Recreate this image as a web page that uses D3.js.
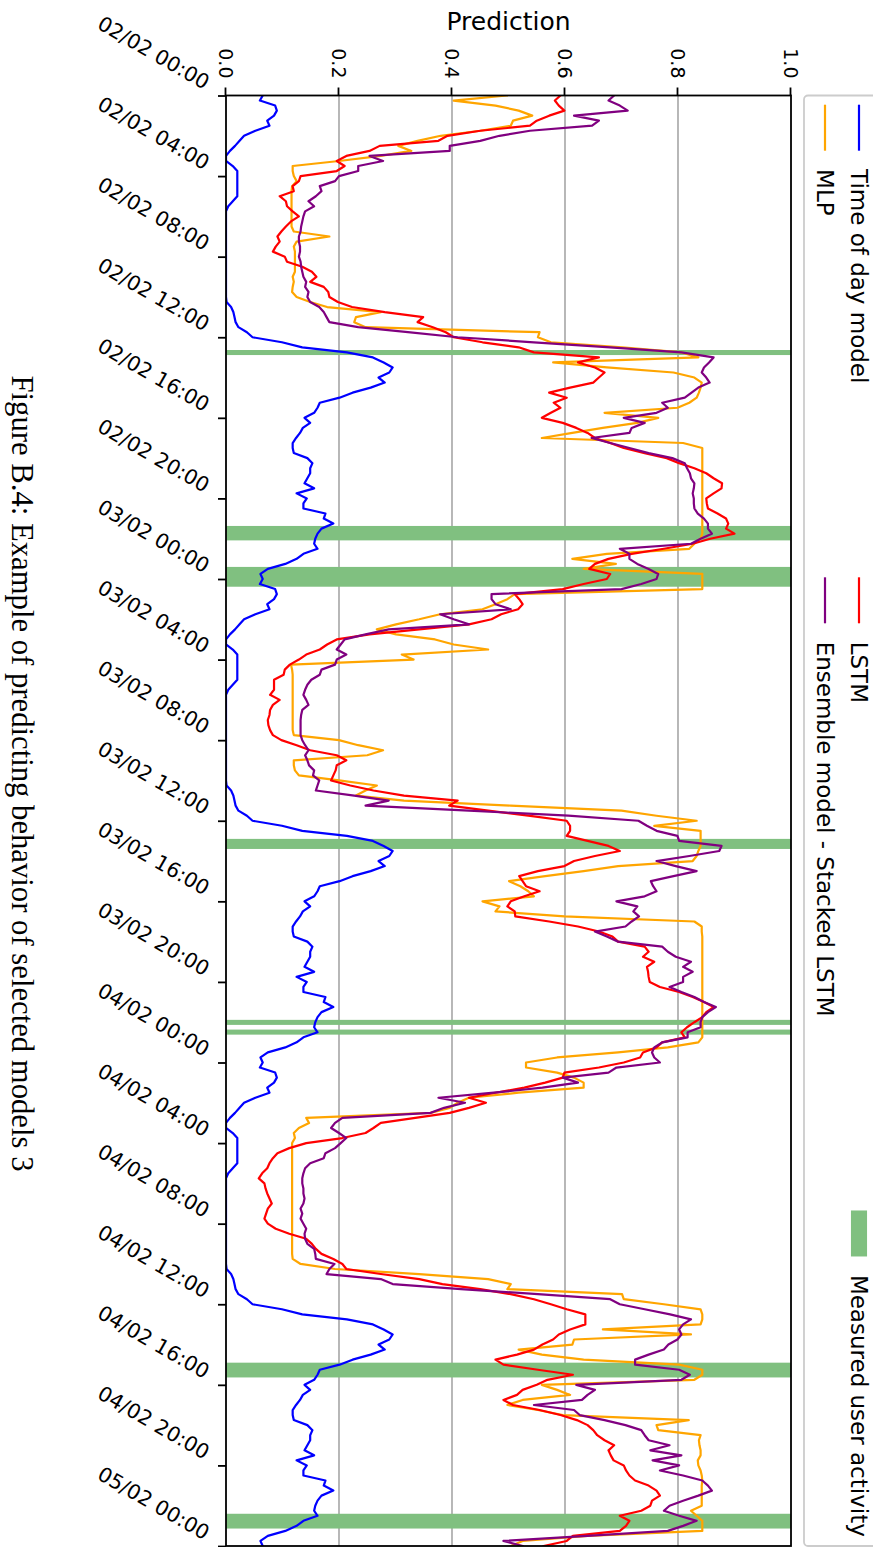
<!DOCTYPE html>
<html>
<head>
<meta charset="utf-8">
<script src="https://cdn.jsdelivr.net/npm/d3@7"></script>
<style>
  html, body { margin: 0; padding: 0; background: #ffffff; }
  svg { display: block; }
</style>
</head>
<body>
<script>
// ---- Data: predictions sampled every 15 minutes from 02/02 00:00 to 05/02 00:00 ----
const startTime = "2019-02-02 00:00";
const endTime = "2019-02-05 00:00";
const stepMinutes = 15;

const timeOfDayModel = [
  0.065,0.060,0.087,0.090,0.085,0.073,0.077,0.052, 0.032,0.024,0.016,0.007,0,0,0.012,0.020,
  0.020,0.020,0.020,0.020,0.020,0.012,0.004,0, 0,0,0,0,0,0,0,0,
  0,0,0,0,0,0,0,0, 0,0.001,0.009,0.013,0.015,0.017,0.022,0.037,
  0.047,0.099,0.135,0.214,0.260,0.279,0.295,0.289, 0.270,0.281,0.256,0.224,0.201,0.166,0.162,0.156,
  0.139,0.149,0.136,0.131,0.124,0.118,0.118,0.120, 0.144,0.153,0.149,0.149,0.144,0.139,0.156,0.125,
  0.143,0.137,0.137,0.176,0.173,0.190,0.169,0.162, 0.158,0.156,0.162,0.137,0.125,0.105,0.074,0.061,
  0.065,0.060,0.087,0.090,0.085,0.073,0.077,0.052, 0.032,0.024,0.016,0.007,0,0,0.012,0.020,
  0.020,0.020,0.020,0.020,0.020,0.012,0.004,0, 0,0,0,0,0,0,0,0,
  0,0,0,0,0,0,0,0, 0,0.001,0.009,0.013,0.015,0.017,0.022,0.037,
  0.047,0.099,0.135,0.214,0.260,0.279,0.295,0.289, 0.270,0.281,0.256,0.224,0.201,0.166,0.162,0.156,
  0.139,0.149,0.136,0.131,0.124,0.118,0.118,0.120, 0.144,0.153,0.149,0.149,0.144,0.139,0.156,0.125,
  0.143,0.137,0.137,0.176,0.173,0.190,0.169,0.162, 0.158,0.156,0.162,0.137,0.125,0.105,0.074,0.061,
  0.065,0.060,0.087,0.090,0.085,0.073,0.077,0.052, 0.032,0.024,0.016,0.007,0,0,0.012,0.020,
  0.020,0.020,0.020,0.020,0.020,0.012,0.004,0, 0,0,0,0,0,0,0,0,
  0,0,0,0,0,0,0,0, 0,0.001,0.009,0.013,0.015,0.017,0.022,0.037,
  0.047,0.099,0.135,0.214,0.260,0.279,0.295,0.289, 0.270,0.281,0.256,0.224,0.201,0.166,0.162,0.156,
  0.139,0.149,0.136,0.131,0.124,0.118,0.118,0.120, 0.144,0.153,0.149,0.149,0.144,0.139,0.156,0.125,
  0.143,0.137,0.137,0.176,0.173,0.190,0.169,0.162, 0.158,0.156,0.162,0.137,0.125,0.105,0.074,0.061,
  0.065
];

const mlp = [
  0.497,0.403,0.477,0.518,0.542,0.508,0.504,0.450, 0.380,0.339,0.305,0.328,0.274,0.200,0.118,0.118,
  0.120,0.125,0.117,0.116,0.116,0.116,0.116,0.116, 0.116,0.116,0.116,0.120,0.183,0.125,0.120,0.122,
  0.122,0.122,0.122,0.122,0.118,0.120,0.118,0.117, 0.125,0.149,0.179,0.274,0.230,0.227,0.247,0.555,
  0.552,0.575,0.701,0.806,0.836,0.579,0.674,0.792, 0.829,0.842,0.840,0.837,0.833,0.820,0.799,0.670,
  0.765,0.728,0.667,0.613,0.559,0.809,0.843,0.843, 0.843,0.843,0.843,0.843,0.843,0.843,0.843,0.843,
  0.843,0.843,0.843,0.843,0.843,0.843,0.843,0.843, 0.840,0.829,0.820,0.674,0.613,0.690,0.633,0.843,
  0.843,0.843,0.843,0.511,0.498,0.477,0.454,0.379, 0.342,0.301,0.267,0.301,0.370,0.403,0.464,0.311,
  0.332,0.115,0.117,0.118,0.118,0.118,0.118,0.118, 0.118,0.118,0.118,0.118,0.118,0.118,0.118,0.120,
  0.200,0.234,0.278,0.250,0.120,0.120,0.122,0.129, 0.200,0.267,0.247,0.230,0.315,0.504,0.700,0.762,
  0.833,0.758,0.840,0.840,0.840,0.840,0.836,0.833, 0.826,0.694,0.633,0.565,0.501,0.521,0.535,0.545,
  0.454,0.484,0.477,0.599,0.829,0.842,0.842,0.843, 0.843,0.843,0.843,0.843,0.843,0.843,0.843,0.843,
  0.843,0.843,0.843,0.843,0.843,0.843,0.843,0.843, 0.843,0.843,0.843,0.843,0.836,0.782,0.694,0.586,
  0.531,0.531,0.586,0.616,0.633,0.633,0.518,0.430, 0.410,0.396,0.362,0.142,0.147,0.129,0.120,0.122,
  0.117,0.117,0.117,0.117,0.117,0.117,0.117,0.117, 0.117,0.117,0.117,0.117,0.117,0.117,0.117,0.117,
  0.117,0.117,0.117,0.117,0.117,0.117,0.117,0.118, 0.132,0.193,0.342,0.464,0.504,0.498,0.701,0.704,
  0.775,0.840,0.843,0.843,0.840,0.667,0.823,0.616, 0.613,0.518,0.559,0.633,0.802,0.843,0.843,0.829,
  0.559,0.586,0.609,0.525,0.498,0.552,0.596,0.819, 0.762,0.765,0.840,0.837,0.838,0.840,0.840,0.835,
  0.836,0.840,0.842,0.843,0.842,0.842,0.842,0.842, 0.842,0.823,0.833,0.843,0.843,0.843,0.640,0.525,
  0.504
];

const lstm = [
  0.592,0.582,0.589,0.599,0.572,0.550,0.538,0.450, 0.392,0.376,0.272,0.254,0.213,0.196,0.210,0.196,
  0.132,0.129,0.118,0.120,0.095,0.106,0.108,0.118, 0.129,0.115,0.106,0.098,0.091,0.095,0.088,0.083,
  0.104,0.108,0.135,0.152,0.160,0.149,0.173,0.181, 0.183,0.198,0.223,0.281,0.349,0.339,0.366,0.389,
  0.403,0.454,0.518,0.545,0.660,0.623,0.653,0.670, 0.660,0.650,0.609,0.572,0.603,0.580,0.592,0.575,
  0.559,0.596,0.620,0.640,0.653,0.680,0.704,0.741, 0.780,0.802,0.829,0.850,0.863,0.878,0.877,0.863,
  0.850,0.851,0.853,0.870,0.885,0.889,0.885,0.900, 0.857,0.826,0.775,0.718,0.677,0.653,0.643,0.680,
  0.674,0.633,0.596,0.511,0.519,0.525,0.517,0.487, 0.470,0.430,0.342,0.254,0.196,0.179,0.166,0.142,
  0.129,0.113,0.104,0.102,0.085,0.085,0.085,0.078, 0.095,0.083,0.078,0.077,0.074,0.075,0.078,0.083,
  0.098,0.125,0.149,0.196,0.213,0.196,0.194,0.190, 0.186,0.220,0.261,0.315,0.410,0.395,0.464,0.535,
  0.603,0.609,0.609,0.603,0.640,0.677,0.697,0.653, 0.616,0.599,0.552,0.519,0.525,0.531,0.555,0.528,
  0.504,0.498,0.511,0.512,0.572,0.623,0.660,0.684, 0.694,0.741,0.748,0.738,0.758,0.745,0.747,0.748,
  0.750,0.768,0.802,0.826,0.846,0.863,0.850,0.843, 0.829,0.816,0.806,0.812,0.772,0.762,0.738,0.733,
  0.704,0.660,0.599,0.596,0.565,0.528,0.477,0.430, 0.460,0.430,0.396,0.335,0.274,0.261,0.247,0.206,
  0.142,0.112,0.091,0.083,0.077,0.073,0.064,0.058, 0.068,0.070,0.073,0.077,0.081,0.074,0.071,0.068,
  0.074,0.088,0.112,0.142,0.152,0.159,0.169,0.190, 0.206,0.213,0.274,0.342,0.383,0.450,0.504,0.545,
  0.575,0.603,0.636,0.636,0.636,0.609,0.589,0.579, 0.560,0.545,0.515,0.477,0.491,0.552,0.614,0.569,
  0.550,0.525,0.515,0.491,0.508,0.555,0.592,0.621, 0.640,0.650,0.657,0.670,0.687,0.677,0.681,0.686,
  0.704,0.708,0.714,0.724,0.748,0.762,0.768,0.754, 0.751,0.735,0.697,0.714,0.708,0.697,0.614,0.603,
  0.562
];

const ensembleStackedLstm = [
  0.687,0.677,0.697,0.711,0.616,0.660,0.648,0.538, 0.484,0.450,0.396,0.396,0.254,0.278,0.234,0.234,
  0.200,0.193,0.166,0.169,0.159,0.146,0.156,0.140, 0.137,0.135,0.133,0.132,0.129,0.129,0.131,0.131,
  0.129,0.132,0.133,0.135,0.137,0.142,0.140,0.146, 0.144,0.149,0.165,0.173,0.178,0.183,0.234,0.322,
  0.410,0.545,0.680,0.806,0.863,0.855,0.846,0.842, 0.850,0.856,0.836,0.824,0.812,0.772,0.782,0.762,
  0.704,0.741,0.718,0.714,0.647,0.680,0.714,0.748, 0.790,0.812,0.816,0.821,0.823,0.829,0.828,0.826,
  0.828,0.828,0.829,0.835,0.846,0.853,0.853,0.860, 0.840,0.823,0.697,0.714,0.714,0.728,0.748,0.765,
  0.762,0.735,0.700,0.470,0.470,0.477,0.504,0.379, 0.403,0.430,0.288,0.247,0.210,0.203,0.196,0.213,
  0.196,0.193,0.169,0.166,0.151,0.144,0.140,0.137, 0.142,0.146,0.135,0.133,0.132,0.132,0.132,0.132,
  0.135,0.140,0.146,0.140,0.144,0.147,0.156,0.154, 0.165,0.162,0.159,0.227,0.288,0.247,0.430,0.606,
  0.730,0.745,0.762,0.799,0.802,0.877,0.873,0.820, 0.762,0.796,0.833,0.792,0.752,0.756,0.762,0.741,
  0.691,0.728,0.721,0.731,0.718,0.707,0.653,0.674, 0.694,0.772,0.782,0.796,0.823,0.809,0.826,0.809,
  0.809,0.785,0.806,0.829,0.846,0.867,0.853,0.843, 0.840,0.840,0.817,0.817,0.772,0.758,0.754,0.758,
  0.768,0.691,0.677,0.596,0.623,0.560,0.474,0.376, 0.423,0.386,0.362,0.206,0.193,0.186,0.200,0.213,
  0.203,0.193,0.176,0.173,0.149,0.140,0.137,0.135, 0.135,0.137,0.137,0.139,0.137,0.132,0.135,0.132,
  0.137,0.142,0.139,0.140,0.144,0.156,0.158,0.159, 0.192,0.183,0.178,0.274,0.295,0.416,0.552,0.680,
  0.697,0.741,0.786,0.823,0.809,0.802,0.806,0.799, 0.783,0.775,0.748,0.724,0.724,0.802,0.821,0.806,
  0.620,0.653,0.640,0.630,0.545,0.616,0.626,0.670, 0.707,0.735,0.741,0.748,0.785,0.751,0.806,0.755,
  0.802,0.768,0.809,0.843,0.853,0.860,0.836,0.809, 0.785,0.775,0.802,0.833,0.809,0.782,0.640,0.491,
  0.525
];

// Periods of measured user activity
const activityStart = ["2019-02-02 12:38","2019-02-02 21:22","2019-02-02 23:24","2019-02-03 12:54",
                       "2019-02-03 21:53","2019-02-03 22:22","2019-02-04 14:54","2019-02-04 22:24"];
const activityEnd   = ["2019-02-02 12:53","2019-02-02 22:05","2019-02-03 00:23","2019-02-03 13:24",
                       "2019-02-03 22:08","2019-02-03 22:37","2019-02-04 15:38","2019-02-04 23:08"];

const seriesLabels = ["Time of day model", "MLP", "LSTM", "Ensemble model - Stacked LSTM"];
const seriesColors = ["#0000ff", "#ffa500", "#ff0000", "#800080"];
const activityLabel = "Measured user activity";
const activityColor = "#80c080";
const predictionTicks = [0.0, 0.2, 0.4, 0.6, 0.8, 1.0];
const gridTicks = [0.2, 0.4, 0.6, 0.8];
const yLabel = "Prediction";
const caption = "Figure B.4: Example of predicting behavior of selected models 3";

// ---- Layout: the chart is laid out landscape, then turned a quarter turn clockwise ----
const pageW = 873, pageH = 1547;
const W = pageH, H = pageW;           // landscape canvas
const plotLeft = 95.5, plotRight = 1546, plotTop = 82, plotBottom = 647;
const sans = "DejaVu Sans, Verdana, sans-serif";

const svg = d3.select("body").append("svg")
  .attr("width", pageW).attr("height", pageH)
  .attr("viewBox", `0 0 ${pageW} ${pageH}`);

const root = svg.append("g").attr("transform", `translate(${pageW},0) rotate(90)`);

const parse = d3.timeParse("%Y-%m-%d %H:%M");
const t0 = parse(startTime), t1 = parse(endTime);

const x = d3.scaleTime().domain([t0, t1]).range([plotLeft, plotRight]);
const y = d3.scaleLinear().domain([0, 1]).range([plotBottom, plotTop]);

const timeAt = i => new Date(t0.getTime() + i * stepMinutes * 60000);

// clip region for the plotted data
root.append("defs").append("clipPath").attr("id", "plotClip")
  .append("rect")
  .attr("x", plotLeft).attr("y", plotTop)
  .attr("width", plotRight - plotLeft).attr("height", plotBottom - plotTop);

// horizontal grid lines
root.append("g").selectAll("line").data(gridTicks).join("line")
  .attr("x1", plotLeft).attr("x2", plotRight)
  .attr("y1", d => y(d)).attr("y2", d => y(d))
  .attr("stroke", "#b0b0b0").attr("stroke-width", 1.8);

// activity spans
const spans = activityStart.map((s, i) => ({ a: parse(s), b: parse(activityEnd[i]) }));
root.append("g").attr("clip-path", "url(#plotClip)")
  .selectAll("rect").data(spans).join("rect")
  .attr("x", d => x(d.a)).attr("width", d => x(d.b) - x(d.a))
  .attr("y", plotTop).attr("height", plotBottom - plotTop)
  .attr("fill", activityColor);

// prediction lines
const allSeries = [timeOfDayModel, mlp, lstm, ensembleStackedLstm];
const line = d3.line().x((d, i) => x(timeAt(i))).y(d => y(d));
const lineGroup = root.append("g").attr("clip-path", "url(#plotClip)");
allSeries.forEach((vals, k) => {
  lineGroup.append("path")
    .datum(vals)
    .attr("d", line)
    .attr("fill", "none")
    .attr("stroke", seriesColors[k])
    .attr("stroke-width", 2.2)
    .attr("stroke-linejoin", "round")
    .attr("stroke-linecap", "square");
});

// time axis
const xAxis = d3.axisBottom(x)
  .ticks(d3.timeHour.every(4))
  .tickFormat(d3.timeFormat("%d/%m %H:%M"))
  .tickSize(8).tickSizeOuter(0);
const gx = root.append("g").attr("transform", `translate(0,${plotBottom})`).call(xAxis);
gx.select(".domain").remove();
gx.selectAll(".tick line").attr("stroke", "#000").attr("stroke-width", 1.8);
gx.selectAll(".tick text")
  .attr("x", 0).attr("y", 0).attr("dy", null)
  .attr("transform", "translate(-6,22) rotate(-60)")
  .attr("text-anchor", "end")
  .attr("fill", "#000")
  .style("font-family", sans).style("font-size", "20.5px");

// prediction axis
const yAxis = d3.axisLeft(y)
  .tickValues(predictionTicks)
  .tickFormat(d3.format(".1f"))
  .tickSize(8).tickSizeOuter(0).tickPadding(8);
const gy = root.append("g").attr("transform", `translate(${plotLeft},0)`).call(yAxis);
gy.select(".domain").remove();
gy.selectAll(".tick line").attr("stroke", "#000").attr("stroke-width", 1.8);
gy.selectAll(".tick text")
  .attr("x", -17).attr("dy", "0.36em")
  .attr("fill", "#000")
  .style("font-family", sans).style("font-size", "19px");

// axes frame
root.append("rect")
  .attr("x", plotLeft).attr("y", plotTop)
  .attr("width", plotRight - plotLeft).attr("height", plotBottom - plotTop)
  .attr("fill", "none").attr("stroke", "#000").attr("stroke-width", 1.8);

// axis title
root.append("text")
  .attr("transform", `translate(30,${(plotTop + plotBottom) / 2}) rotate(-90)`)
  .attr("text-anchor", "middle")
  .attr("fill", "#000")
  .style("font-family", sans).style("font-size", "25px")
  .text(yLabel);

// ---- legend: three columns spread across the plot width ----
const fs = 23;
const handleLen = 2 * fs, handlePad = 0.8 * fs, borderPad = 0.4 * fs;
const legendBottom = 69;
const rowY = [14, 48];
const legend = root.append("g");
legend.append("rect")
  .attr("x", plotLeft).attr("y", -30)
  .attr("width", plotRight - plotLeft).attr("height", legendBottom + 30)
  .attr("rx", 4).attr("ry", 4)
  .attr("fill", "#ffffff").attr("fill-opacity", 0.8)
  .attr("stroke", "#cccccc").attr("stroke-width", 1.8);

const entries = [
  { label: seriesLabels[0], color: seriesColors[0], kind: "line", col: 0, row: 0 },
  { label: seriesLabels[1], color: seriesColors[1], kind: "line", col: 0, row: 1 },
  { label: seriesLabels[2], color: seriesColors[2], kind: "line", col: 1, row: 0 },
  { label: seriesLabels[3], color: seriesColors[3], kind: "line", col: 1, row: 1 },
  { label: activityLabel, color: activityColor, kind: "patch", col: 2, row: 0 }
];
const texts = entries.map(e => legend.append("text")
  .attr("dy", "0.35em")
  .attr("fill", "#000")
  .style("font-family", sans).style("font-size", fs + "px")
  .text(e.label));
const widths = texts.map(t => t.node().getComputedTextLength());
const colW = [0, 1, 2].map(c => d3.max(entries.map((e, i) => e.col === c ? handleLen + handlePad + widths[i] : 0)));
const inner = (plotRight - plotLeft) - 2 * borderPad;
const sep = (inner - d3.sum(colW)) / 2;
const colX = [plotLeft + borderPad];
colX.push(colX[0] + colW[0] + sep);
colX.push(colX[1] + colW[1] + sep);

entries.forEach((e, i) => {
  const cx = colX[e.col], cy = rowY[e.row];
  if (e.kind === "line") {
    legend.append("line")
      .attr("x1", cx).attr("x2", cx + handleLen)
      .attr("y1", cy).attr("y2", cy)
      .attr("stroke", e.color).attr("stroke-width", 2.2);
  } else {
    legend.append("rect")
      .attr("x", cx).attr("y", cy - 0.35 * fs)
      .attr("width", handleLen).attr("height", 0.7 * fs)
      .attr("fill", e.color);
  }
  texts[i].attr("x", cx + handleLen + handlePad).attr("y", cy);
});

// caption under the figure
const cap = root.append("text")
  .attr("x", W / 2).attr("y", 861)
  .attr("text-anchor", "middle")
  .attr("fill", "#000")
  .style("font-family", "Liberation Serif, Times New Roman, serif")
  .style("font-size", "27px")
  .text(caption);
const capLen = cap.node().getComputedTextLength();
cap.style("font-size", (27 * 796 / capLen).toFixed(2) + "px");
</script>
</body>
</html>
